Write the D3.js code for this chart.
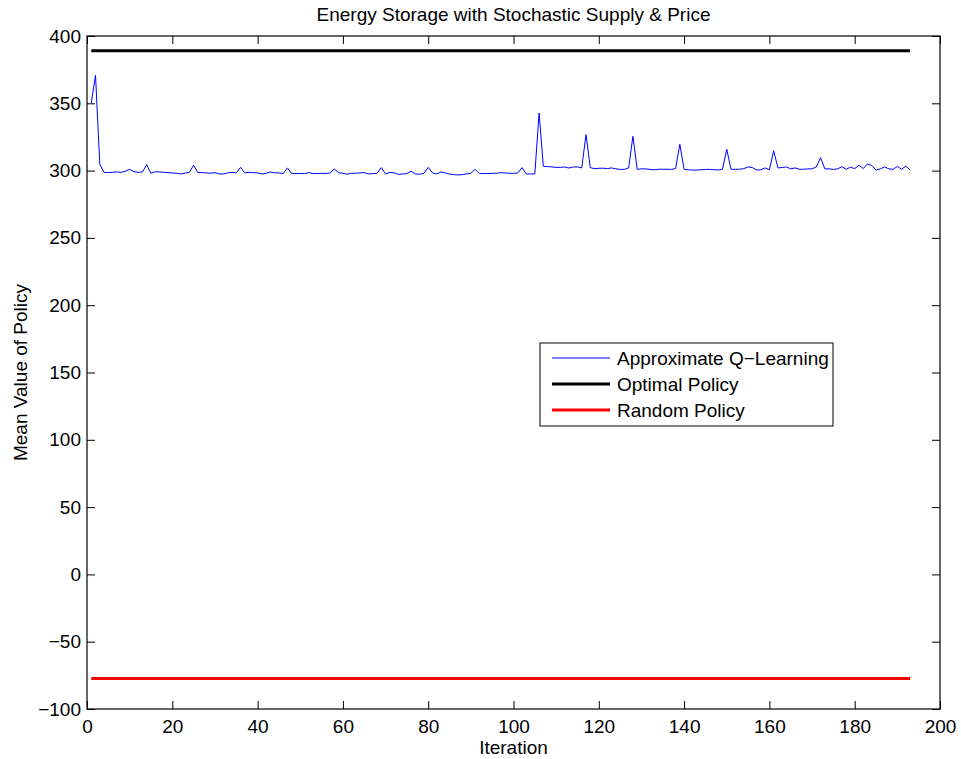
<!DOCTYPE html>
<html>
<head>
<meta charset="utf-8">
<script src="https://cdn.jsdelivr.net/npm/d3@7"></script>
<style>
  html, body { margin: 0; padding: 0; background: #fff; }
  svg { display: block; font-family: "Liberation Sans", Arial, Helvetica, sans-serif; }
</style>
</head>
<body>
<svg id="chart" width="961" height="759"></svg>
<script>
// Mean value of the policy found by approximate Q-learning at each iteration
const qLearning = [
  350.2, 370.8, 304.7, 298.7, 298.5, 298.7, 299.0, 298.7, 299.5, 301.0,
  299.2, 298.7, 299.0, 304.4, 298.0, 299.2, 299.0, 298.7, 298.5, 298.2,
  298.0, 297.5, 298.2, 298.7, 304.0, 298.5, 298.5, 298.3, 298.0, 298.5,
  297.5, 297.5, 298.3, 298.7, 298.3, 302.4, 298.3, 298.7, 298.5, 298.3,
  297.5, 298.0, 299.0, 298.3, 298.3, 297.8, 302.0, 297.8, 297.8, 297.8,
  297.8, 298.5, 297.8, 297.8, 298.0, 297.8, 298.3, 301.2, 298.5, 298.0,
  297.3, 298.0, 298.0, 298.3, 298.5, 297.5, 297.8, 298.0, 302.2, 297.5,
  298.7, 298.3, 297.2, 297.5, 297.8, 299.5, 297.5, 297.3, 298.0, 302.4,
  298.3, 297.5, 299.0, 298.3, 297.5, 297.0, 296.8, 297.0, 297.5, 298.0,
  301.0, 297.8, 297.8, 297.8, 298.0, 298.0, 298.5, 298.2, 298.0, 298.0,
  298.2, 302.2, 297.5, 297.5, 297.5, 342.8, 303.2, 303.0, 302.7, 302.4,
  302.4, 302.7, 301.9, 302.7, 302.7, 302.0, 326.7, 302.2, 301.4, 301.7,
  301.8, 301.5, 302.0, 301.3, 300.9, 300.9, 302.0, 325.5, 300.9, 301.3,
  301.3, 300.9, 300.6, 301.0, 301.0, 301.0, 300.9, 301.5, 319.5, 300.9,
  300.6, 300.4, 300.4, 300.6, 300.9, 300.9, 300.6, 300.5, 301.0, 315.8,
  300.9, 301.0, 301.0, 301.5, 302.7, 302.3, 300.4, 300.6, 302.0, 300.6,
  314.8, 302.0, 302.3, 302.7, 301.3, 302.0, 301.0, 301.0, 301.3, 301.3,
  302.7, 309.6, 301.3, 301.3, 300.9, 301.3, 302.9, 301.0, 302.5, 301.5,
  304.0, 301.5, 304.9, 303.8, 300.4, 301.3, 302.7, 301.3, 300.9, 303.1,
  301.0, 303.3, 300.4
];
const iterations = qLearning.map((_, i) => i + 1);

// Reference levels: optimal policy value and random policy value
const optimalValue = 389;
const randomValue = -77.4;

const xTicks = [0, 20, 40, 60, 80, 100, 120, 140, 160, 180, 200];
const yTicks = [-100, -50, 0, 50, 100, 150, 200, 250, 300, 350, 400];

const seriesNames = ["Approximate Q\u2212Learning", "Optimal Policy", "Random Policy"];
const seriesColors = ["#0000ff", "#000000", "#ff0000"];
const seriesWidths = [1, 3, 3];

const titleText = "Energy Storage with Stochastic Supply & Price";
const xLabel = "Iteration";
const yLabel = "Mean Value of Policy";

const svg = d3.select("#chart");
const margin = { left: 87, right: 21, top: 36, bottom: 50 };
const W = 961, H = 759;
const x0 = margin.left, x1 = W - margin.right;
const y0 = H - margin.bottom, y1 = margin.top;

const x = d3.scaleLinear().domain([0, 200]).range([x0, x1]);
const y = d3.scaleLinear().domain([-100, 400]).range([y0, y1]);

const fmt = d => (d < 0 ? "\u2212" + Math.abs(d) : String(d));
const tickLen = 8;
const fontSize = 19;

// Axes: ticks point inward on all four sides, box closed
const gx = svg.append("g").attr("transform", `translate(0,${y0})`)
  .call(d3.axisBottom(x).tickValues(xTicks).tickFormat(fmt).tickSizeInner(-tickLen).tickSizeOuter(0).tickPadding(11));
const gy = svg.append("g").attr("transform", `translate(${x0},0)`)
  .call(d3.axisLeft(y).tickValues(yTicks).tickFormat(fmt).tickSizeInner(-tickLen).tickSizeOuter(0).tickPadding(6));
const gxt = svg.append("g").attr("transform", `translate(0,${y1})`)
  .call(d3.axisTop(x).tickValues(xTicks).tickFormat("").tickSizeInner(-tickLen).tickSizeOuter(0));
const gyr = svg.append("g").attr("transform", `translate(${x1},0)`)
  .call(d3.axisRight(y).tickValues(yTicks).tickFormat("").tickSizeInner(-tickLen).tickSizeOuter(0));

[gx, gy, gxt, gyr].forEach(g => {
  g.select(".domain").remove();
  g.selectAll(".tick line").attr("stroke", "#000").attr("stroke-width", 1);
  g.selectAll(".tick text").attr("fill", "#000").style("font-size", fontSize + "px")
    .style("font-family", "'Liberation Sans', Arial, Helvetica, sans-serif");
});

// Data lines
const line = d3.line().x((d, i) => x(iterations[i])).y(d => y(d));
svg.append("path").datum(iterations.map(() => optimalValue))
  .attr("d", line).attr("fill", "none").attr("stroke", seriesColors[1]).attr("stroke-width", seriesWidths[1]);
svg.append("path").datum(iterations.map(() => randomValue))
  .attr("d", line).attr("fill", "none").attr("stroke", seriesColors[2]).attr("stroke-width", seriesWidths[2]);
svg.append("path").datum(qLearning)
  .attr("d", line).attr("fill", "none").attr("stroke", seriesColors[0]).attr("stroke-width", seriesWidths[0])
  .attr("stroke-linejoin", "round");

// Plot box
svg.append("rect").attr("x", x0).attr("y", y1).attr("width", x1 - x0).attr("height", y0 - y1)
  .attr("fill", "none").attr("stroke", "#000").attr("stroke-width", 1.2);

// Title and axis labels
svg.append("text").attr("x", (x0 + x1) / 2).attr("y", 21).attr("text-anchor", "middle")
  .style("font-size", fontSize + "px").text(titleText);
svg.append("text").attr("x", (x0 + x1) / 2).attr("y", 754).attr("text-anchor", "middle")
  .style("font-size", fontSize + "px").text(xLabel);
svg.append("text").attr("transform", `translate(27,${(y0 + y1) / 2}) rotate(-90)`)
  .attr("text-anchor", "middle").style("font-size", fontSize + "px").text(yLabel);

// Legend
const lg = svg.append("g").attr("transform", "translate(540,343)");
lg.append("rect").attr("width", 293).attr("height", 83).attr("fill", "#fff")
  .attr("stroke", "#000").attr("stroke-width", 1);
seriesNames.forEach((name, i) => {
  const cy = 15 + i * 26;
  lg.append("line").attr("x1", 12).attr("x2", 70).attr("y1", cy).attr("y2", cy)
    .attr("stroke", seriesColors[i]).attr("stroke-width", seriesWidths[i] === 1 ? 1 : 3);
  lg.append("text").attr("x", 77).attr("y", cy + 7).style("font-size", fontSize + "px").text(name);
});
</script>
</body>
</html>
